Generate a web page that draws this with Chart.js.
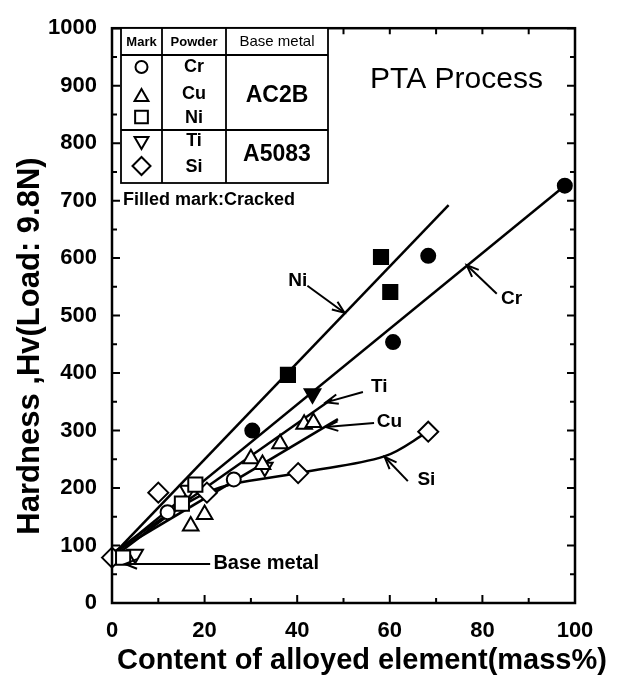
<!DOCTYPE html>
<html>
<head>
<meta charset="utf-8">
<title>PTA Process hardness</title>
<script src="https://cdn.jsdelivr.net/npm/chart.js@4.4.1/dist/chart.umd.min.js"></script>
<style>
  html, body { margin: 0; padding: 0; background: #fff; }
  #wrap { position: relative; width: 625px; height: 685px; }
</style>
</head>
<body>
<div id="wrap"><canvas id="chart"></canvas></div>
<script>
// measured points, x = mass%, y = Hv
const crX = [12, 26.3, 30.3, 60.7, 68.3, 97.8];
const crY = [158, 215, 300, 454, 604, 726];
const crCracked = [false, false, true, true, true, true];

const cuX = [17, 20, 30, 32.5, 36.3, 41.5, 43.5];
const cuY = [134, 154, 251, 241, 277, 311, 314];
const cuCracked = [false, false, false, false, false, false, false];

const niX = [2.4, 15.1, 18, 38, 58.1, 60.1];
const niY = [79, 173, 206, 397, 602, 541];
const niCracked = [false, false, false, true, true, true];

const tiX = [5, 16.4, 33, 43.3];
const tiY = [85, 196, 236, 364];
const tiCracked = [false, false, false, true];

const siX = [0, 10, 20.5, 40.2, 68.3];
const siY = [79, 192, 192, 226, 298];
const siCracked = [false, false, false, false, false];

// drawn trend lines
const niLineX = [0, 72.7];
const niLineY = [82, 692];
const crLineX = [0, 97.8];
const crLineY = [82, 726];
const tiLineX = [0, 47.5];
const tiLineY = [86, 355];
const cuLineX = [0, 48.8];
const cuLineY = [86, 320];
const siCurveX = [0, 20.5, 40.2, 58.8, 68.3];
const siCurveY = [79, 192, 226, 255, 298];

const xTicks = [0, 20, 40, 60, 80, 100];
const yTicks = [0, 100, 200, 300, 400, 500, 600, 700, 800, 900, 1000];

// callout labels (data coords)
const callouts = [
  { text: 'Ni', at: [40.1, 561], from: [42.2, 552], to: [50.2, 505] },
  { text: 'Cr', at: [86.3, 529], from: [83.1, 538], to: [76.6, 588] },
  { text: 'Ti', at: [57.7, 376], from: [54.2, 367], to: [46.2, 349] },
  { text: 'Cu', at: [59.9, 316], from: [56.6, 313], to: [46.2, 306] },
  { text: 'Si', at: [67.9, 214], from: [63.9, 212], to: [58.9, 254] }
];

const FONT = "'Liberation Sans', Arial, Helvetica, sans-serif";

const pairs = (xs, ys) => xs.map((x, i) => ({ x: x, y: ys[i] }));
const fills = flags => flags.map(f => (f ? '#000' : '#fff'));

function markSet(label, xs, ys, cracked, style, radius, rotation) {
  return {
    type: 'scatter',
    label: label,
    data: pairs(xs, ys),
    clip: false,
    pointStyle: style,
    pointRadius: radius,
    pointRotation: rotation || 0,
    pointBorderWidth: 2,
    pointBorderColor: '#000',
    pointBackgroundColor: fills(cracked),
    pointHoverRadius: radius,
    showLine: false
  };
}

function lineSet(label, xs, ys, curved) {
  return {
    type: 'line',
    label: label,
    data: pairs(xs, ys),
    borderColor: '#000',
    borderWidth: 2.5,
    pointRadius: 0,
    pointHoverRadius: 0,
    fill: false,
    tension: curved ? 0.35 : 0
  };
}

function arrow(ctx, x1, y1, x2, y2) {
  const a = Math.atan2(y2 - y1, x2 - x1);
  const h = 13;
  ctx.beginPath();
  ctx.moveTo(x1, y1);
  ctx.lineTo(x2, y2);
  ctx.stroke();
  ctx.beginPath();
  ctx.moveTo(x2 - h * Math.cos(a - 0.38), y2 - h * Math.sin(a - 0.38));
  ctx.lineTo(x2, y2);
  ctx.lineTo(x2 - h * Math.cos(a + 0.38), y2 - h * Math.sin(a + 0.38));
  ctx.stroke();
}

function legendMark(ctx, style, x, y, radius, rotation) {
  ctx.save();
  ctx.fillStyle = '#fff';
  ctx.strokeStyle = '#000';
  ctx.lineWidth = 2;
  Chart.helpers.drawPoint(ctx, { pointStyle: style, radius: radius, rotation: rotation || 0, borderWidth: 2 }, x, y);
  ctx.restore();
}

const decorations = {
  id: 'decorations',
  afterDraw(chart) {
    const ctx = chart.ctx;
    const area = chart.chartArea;
    const xs = chart.scales.x, ys = chart.scales.y;
    const px = v => xs.getPixelForValue(v);
    const py = v => ys.getPixelForValue(v);

    ctx.save();
    ctx.strokeStyle = '#000';
    ctx.fillStyle = '#000';

    // frame
    ctx.lineWidth = 2.5;
    ctx.strokeRect(area.left, area.top, area.right - area.left, area.bottom - area.top);

    // inward ticks
    ctx.lineWidth = 2;
    ctx.beginPath();
    for (let v = 0; v <= 100; v += 10) {
      const L = v % 20 === 0 ? 8 : 5;
      ctx.moveTo(px(v), area.bottom); ctx.lineTo(px(v), area.bottom - L);
      ctx.moveTo(px(v), area.top); ctx.lineTo(px(v), area.top + 6);
    }
    for (let v = 0; v <= 1000; v += 50) {
      const L = v % 100 === 0 ? 8 : 5;
      ctx.moveTo(area.left, py(v)); ctx.lineTo(area.left + L, py(v));
      ctx.moveTo(area.right, py(v)); ctx.lineTo(area.right - L, py(v));
    }
    ctx.stroke();

    // callouts
    ctx.lineWidth = 2;
    ctx.font = 'bold 19px ' + FONT;
    ctx.textAlign = 'center';
    ctx.textBaseline = 'middle';
    callouts.forEach(c => {
      arrow(ctx, px(c.from[0]), py(c.from[1]), px(c.to[0]), py(c.to[1]));
      ctx.fillText(c.text, px(c.at[0]), py(c.at[1]));
    });
    arrow(ctx, px(21.2), py(68), px(2.8), py(68));
    ctx.textAlign = 'left';
    ctx.font = 'bold 20px ' + FONT;
    ctx.fillText('Base metal', px(21.9), py(68));

    // process label
    ctx.textAlign = 'center';
    ctx.font = '30px ' + FONT;
    ctx.fillText('PTA Process', px(74.4), py(910));

    // legend table
    const L = 121, R = 328, T = 28, B = 183;
    const c1 = 162, c2 = 226, hr = 55, mid = 130;
    ctx.fillStyle = '#fff';
    ctx.fillRect(L, T, R - L, B - T);
    ctx.fillStyle = '#000';
    ctx.lineWidth = 1.8;
    ctx.strokeRect(L, T, R - L, B - T);
    ctx.beginPath();
    ctx.moveTo(c1, T); ctx.lineTo(c1, B);
    ctx.moveTo(c2, T); ctx.lineTo(c2, B);
    ctx.moveTo(L, hr); ctx.lineTo(R, hr);
    ctx.moveTo(L, mid); ctx.lineTo(R, mid);
    ctx.stroke();

    ctx.font = 'bold 13px ' + FONT;
    ctx.fillText('Mark', (L + c1) / 2, 42);
    ctx.fillText('Powder', (c1 + c2) / 2, 42);
    ctx.font = '15px ' + FONT;
    ctx.fillText('Base metal', (c2 + R) / 2, 42);

    ctx.font = 'bold 18px ' + FONT;
    const rows = [['Cr', 67], ['Cu', 94], ['Ni', 118], ['Ti', 141], ['Si', 167]];
    rows.forEach(r => ctx.fillText(r[0], (c1 + c2) / 2, r[1]));
    ctx.font = 'bold 23px ' + FONT;
    ctx.fillText('AC2B', (c2 + R) / 2, 96);
    ctx.fillText('A5083', (c2 + R) / 2, 155);

    const mx = (L + c1) / 2;
    legendMark(ctx, 'circle', mx, 67, 6);
    legendMark(ctx, 'triangle', mx, 97, 8);
    legendMark(ctx, 'rect', mx, 117, 9);
    legendMark(ctx, 'triangle', mx, 141, 8, 180);
    legendMark(ctx, 'rectRot', mx, 166, 9);

    ctx.font = 'bold 18px ' + FONT;
    ctx.textAlign = 'left';
    ctx.fillText('Filled mark:Cracked', 123, 200);

    // axis titles
    ctx.textAlign = 'center';
    ctx.font = 'bold 29px ' + FONT;
    ctx.fillText('Content of alloyed element(mass%)', 362, 661);
    ctx.save();
    ctx.translate(30, 346);
    ctx.rotate(-Math.PI / 2);
    ctx.font = 'bold 31px ' + FONT;
    ctx.fillText('Hardness ,Hv(Load: 9.8N)', 0, 0);
    ctx.restore();

    ctx.restore();
  }
};

new Chart(document.getElementById('chart'), {
  data: {
    datasets: [
      markSet('Cr', crX, crY, crCracked, 'circle', 7),
      markSet('Cu', cuX, cuY, cuCracked, 'triangle', 9),
      markSet('Ni', niX, niY, niCracked, 'rect', 10),
      markSet('Ti', tiX, tiY, tiCracked, 'triangle', 9, 180),
      markSet('Si', siX, siY, siCracked, 'rectRot', 10),
      lineSet('Ni line', niLineX, niLineY),
      lineSet('Cr line', crLineX, crLineY),
      lineSet('Ti line', tiLineX, tiLineY),
      lineSet('Cu line', cuLineX, cuLineY),
      lineSet('Si curve', siCurveX, siCurveY, true)
    ]
  },
  options: {
    responsive: true,
    maintainAspectRatio: false,
    animation: false,
    layout: { padding: { left: 0, right: 50, top: 15, bottom: 0 } },
    scales: {
      x: {
        type: 'linear',
        min: 0,
        max: 100,
        afterFit: s => { s.height = 82; },
        afterBuildTicks: s => { s.ticks = xTicks.map(v => ({ value: v })); },
        ticks: { color: '#000', padding: 15, maxRotation: 0, callback: v => String(v), font: { family: FONT, size: 22, weight: 'bold' } },
        grid: { display: false, drawTicks: false },
        border: { display: false }
      },
      y: {
        type: 'linear',
        min: 0,
        max: 1000,
        afterFit: s => { s.width = 112; },
        afterBuildTicks: s => { s.ticks = yTicks.map(v => ({ value: v })); },
        ticks: { color: '#000', padding: 15, callback: v => String(v), font: { family: FONT, size: 22, weight: 'bold' } },
        grid: { display: false, drawTicks: false },
        border: { display: false }
      }
    },
    plugins: {
      legend: { display: false },
      tooltip: { enabled: false }
    }
  },
  plugins: [decorations]
});
</script>
</body>
</html>
